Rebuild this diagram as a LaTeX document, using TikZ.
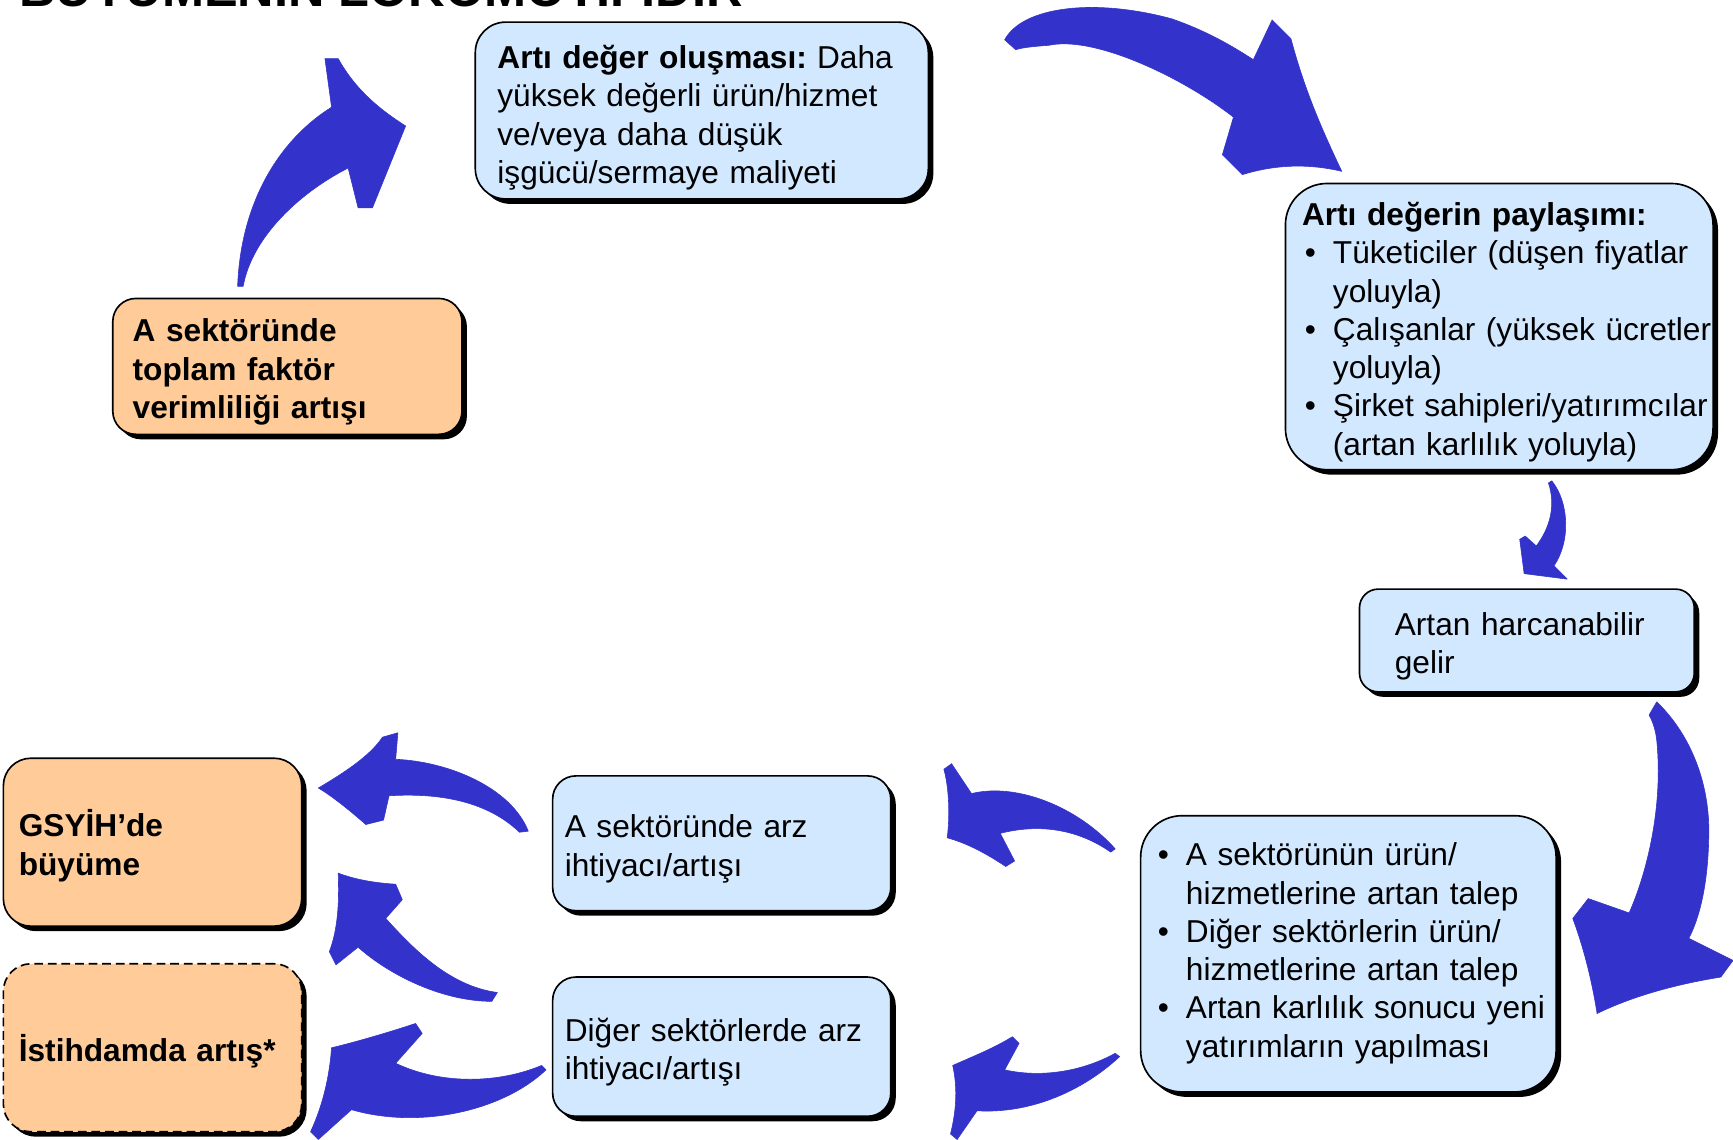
\documentclass[tikz,border=0pt]{standalone}
\usepackage{fontspec}
\setmainfont{Liberation Sans}
\usetikzlibrary{shadows}
\definecolor{acikmavi}{RGB}{210,232,255}
\definecolor{turuncu}{RGB}{255,204,153}
\definecolor{okmavi}{RGB}{51,51,204}
\tikzset{
  kutu/.style={draw=black, line width=0.85pt, align=left, inner ysep=0pt,
    font=\fontsize{16.3}{19.7}\selectfont,
    general shadow={fill=black, shadow xshift=0.09cm, shadow yshift=-0.09cm}},
  mavi/.style={kutu, fill=acikmavi},
  portakal/.style={kutu, fill=turuncu, font=\fontsize{16.3}{19.7}\selectfont\bfseries},
  olcu/.style n args={5}{minimum width=#1cm, minimum height=#2cm,
    text width=#3cm, inner xsep=#4cm, rounded corners=#5cm},
  ok/.style={fill=okmavi, draw=okmavi, line width=0.3pt, line join=round},
  baslik/.style={font=\fontsize{26}{30}\selectfont\bfseries, anchor=base west, inner sep=0pt}
}
\newcommand{\bul}{\makebox[0.56cm][l]{\hspace{0.05cm}\textbullet}}
\newcommand{\dev}{\hspace*{0.56cm}}
\newcommand{\satir}[2][0.11cm]{\raisebox{-#1}[\height][\depth]{\begin{tabular}{@{}l@{}}#2\end{tabular}}}

\begin{document}
\begin{tikzpicture}[x=0.02cm, y=-0.02cm]
\useasboundingbox (0,0) rectangle (1568,1031);
\clip (0,0) rectangle (1568,1031);

\node[baslik] (baslik) at (17,6) {BÜYÜMENİN LOKOMOTİFİDİR};

\node[portakal, olcu={6.32}{2.46}{5.6}{0.36}{0.42}] (tfv) at (260,331.5)
  {\satir{A sektöründe\\ toplam faktör\\ verimliliği artışı}};
\node[mavi, olcu={8.2}{3.2}{7.4}{0.4}{0.55}] (deger) at (635,100)
  {\satir[0.14cm]{\textbf{Artı değer oluşması:}\hspace{0.32em}Daha\\ yüksek değerli ürün/hizmet\\ ve/veya daha düşük\\ işgücü/sermaye maliyeti}};
\node[mavi, olcu={7.74}{5.18}{7.14}{0.3}{0.75}] (paylasim) at (1356.5,295.5)
  {\satir{\textbf{Artı değerin paylaşımı:}\\ \bul Tüketiciler (düşen fiyatlar\\ \dev yoluyla)\\
   \bul Çalışanlar (yüksek ücretler\\ \dev yoluyla)\\ \bul Şirket sahipleri/yatırımcılar\\ \dev (artan karlılık yoluyla)}};
\node[mavi, olcu={6.06}{1.86}{4.78}{0.64}{0.34}] (gelir) at (1381.5,579.5)
  {\satir[0.12cm]{Artan harcanabilir\\ gelir}};
\node[mavi, olcu={7.52}{5.0}{7.0}{0.26}{0.75}] (talep) at (1220,863)
  {\satir[0cm]{\bul A sektörünün ürün/\\ \dev hizmetlerine artan talep\\ \bul Diğer sektörlerin ürün/\\
   \dev hizmetlerine artan talep\\ \bul Artan karlılık sonucu yeni\\ \dev yatırımların yapılması}};
\node[mavi, olcu={6.12}{2.44}{5.68}{0.22}{0.42}] (arzA) at (653,763)
  {\satir{A sektöründe arz\\ ihtiyacı/artışı}};
\node[mavi, olcu={6.12}{2.52}{5.68}{0.22}{0.42}] (arzD) at (653,947)
  {\satir{Diğer sektörlerde arz\\ ihtiyacı/artışı}};
\node[portakal, olcu={5.4}{3.04}{4.84}{0.28}{0.5}] (gsyih) at (138,762)
  {\satir{GSYİH’de\\ büyüme}};
\node[portakal, olcu={5.4}{3.04}{4.84}{0.28}{0.5}, dash pattern=on 4.5pt off 2.5pt] (istihdam) at (138,948)
  {\satir{İstihdamda artış*}};

% kavisli oklar
\filldraw[ok] (215,259) .. controls (218,180) and (255,125) .. (300,97) -- (294,53) -- (306,53)
  .. controls (322,82) and (345,100) .. (367,114) -- (337,188) -- (324,188) -- (315,152)
  .. controls (270,175) and (228,215) .. (220,259) -- cycle;
\filldraw[ok] (909,36) .. controls (925,6) and (990,-2) .. (1060,17) .. controls (1095,29) and (1120,45) .. (1134,54)
  -- (1151,18) -- (1168,35) .. controls (1180,80) and (1195,115) .. (1214,155)
  .. controls (1180,147) and (1150,150) .. (1124,158) -- (1106,140) -- (1116,106)
  .. controls (1070,70) and (990,32) .. (949,41) .. controls (935,42) and (925,43) .. (919,45) -- cycle;
\filldraw[ok] (1401,437) -- (1404,435) .. controls (1420,455) and (1421,490) .. (1406,512) -- (1418,524)
  -- (1379,519) -- (1375,488) -- (1380,485) -- (1390,494) .. controls (1402,478) and (1408,458) .. (1401,437) -- cycle;
\filldraw[ok] (1492,647) -- (1499,635) .. controls (1530,665) and (1548,710) .. (1546,760)
  .. controls (1545,800) and (1538,830) .. (1528,849) -- (1568,869) -- (1557,884)
  .. controls (1520,890) and (1480,900) .. (1445,917) .. controls (1440,885) and (1432,855) .. (1423,831)
  -- (1437,813) -- (1474,826) .. controls (1490,790) and (1505,730) .. (1499,670)
  .. controls (1498,660) and (1495,652) .. (1492,647) -- cycle;
\filldraw[ok] (857,758) .. controls (860,735) and (858,710) .. (854,696) -- (861,691) -- (879,718)
  .. controls (920,708) and (975,730) .. (1009,768) -- (1005,771) .. controls (975,750) and (940,745) .. (905,754)
  -- (918,779) -- (910,784) .. controls (892,772) and (875,763) .. (857,758) -- cycle;
\filldraw[ok] (862,964) .. controls (880,956) and (900,948) .. (916,938) -- (922,944) -- (909,968)
  .. controls (945,976) and (982,968) .. (1009,953) -- (1013,956) .. controls (982,985) and (935,1008) .. (884,1005)
  -- (866,1031) -- (860,1026) .. controls (866,1002) and (866,982) .. (862,964) -- cycle;
\filldraw[ok] (288,713) .. controls (310,700) and (335,684) .. (346,667) -- (360,663) -- (358,687)
  .. controls (405,689) and (462,712) .. (478,752) -- (470,753) .. controls (442,726) and (400,717) .. (352,720)
  -- (347,742) -- (331,746) .. controls (315,732) and (300,720) .. (288,713) -- cycle;
\filldraw[ok] (306,790) .. controls (322,796) and (340,799) .. (358,800) -- (364,814) -- (349,831)
  .. controls (372,856) and (405,892) .. (450,898) -- (445,906) .. controls (400,906) and (352,882) .. (324,857)
  -- (304,873) -- (298,861) .. controls (306,840) and (307,815) .. (306,790) -- cycle;
\filldraw[ok] (300,948) .. controls (325,942) and (355,933) .. (376,926) -- (382,935) -- (358,962)
  .. controls (400,982) and (452,980) .. (490,964) -- (494,968) .. controls (455,1005) and (380,1022) .. (318,1004)
  -- (288,1031) -- (281,1024) .. controls (292,1000) and (298,975) .. (300,948) -- cycle;
\end{tikzpicture}
\end{document}
